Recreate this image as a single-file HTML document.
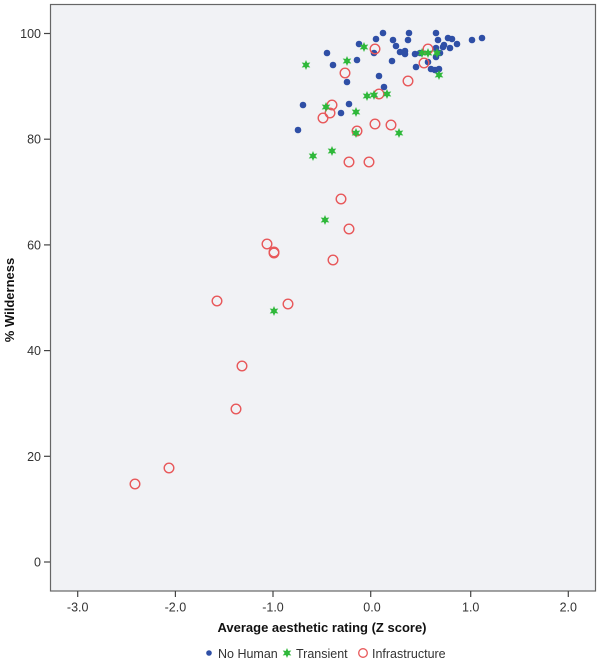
<!DOCTYPE html>
<html><head><meta charset="utf-8"><style>body{margin:0;background:#fff}svg{display:block}</style></head><body>
<svg width="600" height="663" viewBox="0 0 600 663" xmlns="http://www.w3.org/2000/svg" font-family="Liberation Sans, sans-serif">
<defs>
<g id="st"><path d="M0,-5 L1.2,-2.1 4.3,-2.5 2.4,0 4.3,2.5 1.2,2.1 0,5 -1.2,2.1 -4.3,2.5 -2.4,0 -4.3,-2.5 -1.2,-2.1Z" fill="#2fb83a"/></g>
</defs>
<rect x="50.5" y="4.5" width="545" height="586.5" fill="#f1f2f5" stroke="#666" stroke-width="1.2"/>
<g stroke="#444" stroke-width="1.2">
<line x1="44" y1="33.5" x2="50" y2="33.5"/><line x1="44" y1="139.2" x2="50" y2="139.2"/><line x1="44" y1="244.9" x2="50" y2="244.9"/><line x1="44" y1="350.6" x2="50" y2="350.6"/><line x1="44" y1="456.3" x2="50" y2="456.3"/><line x1="44" y1="562" x2="50" y2="562"/>
<line x1="77.7" y1="591" x2="77.7" y2="597"/><line x1="175.4" y1="591" x2="175.4" y2="597"/><line x1="273" y1="591" x2="273" y2="597"/><line x1="370.7" y1="591" x2="370.7" y2="597"/><line x1="470.7" y1="591" x2="470.7" y2="597"/><line x1="568.3" y1="591" x2="568.3" y2="597"/>
</g>
<g font-size="12.5" fill="#333" text-anchor="end">
<text x="41" y="38">100</text><text x="41" y="143.7">80</text><text x="41" y="249.4">60</text><text x="41" y="355.1">40</text><text x="41" y="460.8">20</text><text x="41" y="566.5">0</text>
</g>
<g font-size="12.5" fill="#333" text-anchor="middle">
<text x="77.7" y="611.5">-3.0</text><text x="175.4" y="611.5">-2.0</text><text x="273" y="611.5">-1.0</text><text x="372" y="611.5">0.0</text><text x="470.7" y="611.5">1.0</text><text x="568.3" y="611.5">2.0</text>
</g>
<text x="322" y="632" font-size="13" font-weight="bold" text-anchor="middle" fill="#111">Average aesthetic rating (Z score)</text>
<text transform="translate(14,300) rotate(-90)" font-size="13" font-weight="bold" text-anchor="middle" fill="#111">% Wilderness</text>
<g fill="#2f4fa6">
<circle cx="383" cy="33" r="3.3"/><circle cx="409" cy="33" r="3.3"/><circle cx="436" cy="33" r="3.3"/><circle cx="376" cy="39" r="3.3"/><circle cx="393" cy="40" r="3.3"/><circle cx="408" cy="40" r="3.3"/><circle cx="359" cy="44" r="3.3"/><circle cx="396" cy="46" r="3.3"/><circle cx="327" cy="53" r="3.3"/><circle cx="333" cy="65" r="3.3"/><circle cx="357" cy="60" r="3.3"/><circle cx="392" cy="61" r="3.3"/><circle cx="400" cy="52" r="3.3"/><circle cx="405" cy="51" r="3.3"/><circle cx="405" cy="54" r="3.3"/><circle cx="415" cy="54" r="3.3"/><circle cx="420" cy="53" r="3.3"/><circle cx="416" cy="67" r="3.3"/><circle cx="438" cy="40" r="3.3"/><circle cx="448" cy="38" r="3.3"/><circle cx="452" cy="39" r="3.3"/><circle cx="457" cy="44" r="3.3"/><circle cx="472" cy="40" r="3.3"/><circle cx="482" cy="38" r="3.3"/><circle cx="443" cy="47" r="3.3"/><circle cx="450" cy="48" r="3.3"/><circle cx="436" cy="48" r="3.3"/><circle cx="436" cy="57" r="3.3"/><circle cx="431" cy="69" r="3.3"/><circle cx="435" cy="70" r="3.3"/><circle cx="439" cy="69" r="3.3"/><circle cx="428" cy="62" r="3.3"/><circle cx="379" cy="76" r="3.3"/><circle cx="347" cy="82" r="3.3"/><circle cx="384" cy="87" r="3.3"/><circle cx="349" cy="104" r="3.3"/><circle cx="303" cy="105" r="3.3"/><circle cx="341" cy="113" r="3.3"/><circle cx="298" cy="130" r="3.3"/><circle cx="374" cy="53" r="3.3"/><circle cx="440" cy="53" r="3.3"/><circle cx="444" cy="45" r="3.3"/>
</g>
<g fill="none" stroke="#e8585a" stroke-width="1.4">
<circle cx="375" cy="49" r="4.8"/><circle cx="428" cy="49" r="4.8"/><circle cx="424" cy="63" r="4.8"/><circle cx="345" cy="73" r="4.8"/><circle cx="408" cy="81" r="4.8"/><circle cx="379" cy="94" r="4.8"/><circle cx="332" cy="105" r="4.8"/><circle cx="330" cy="113" r="4.8"/><circle cx="323" cy="118" r="4.8"/><circle cx="357" cy="131" r="4.8"/><circle cx="375" cy="124" r="4.8"/><circle cx="391" cy="125" r="4.8"/><circle cx="349" cy="162" r="4.8"/><circle cx="369" cy="162" r="4.8"/><circle cx="341" cy="199" r="4.8"/><circle cx="349" cy="229" r="4.8"/><circle cx="267" cy="244" r="4.8"/><circle cx="274" cy="253" r="4.8"/><circle cx="274" cy="252" r="4.8"/><circle cx="333" cy="260" r="4.8"/><circle cx="288" cy="304" r="4.8"/><circle cx="217" cy="301" r="4.8"/><circle cx="242" cy="366" r="4.8"/><circle cx="236" cy="409" r="4.8"/><circle cx="169" cy="468" r="4.8"/><circle cx="135" cy="484" r="4.8"/>
</g>
<g>
<use href="#st" x="306" y="65"/><use href="#st" x="347" y="61"/><use href="#st" x="364" y="47"/><use href="#st" x="367" y="96"/><use href="#st" x="374" y="95"/><use href="#st" x="387" y="94"/><use href="#st" x="326" y="107"/><use href="#st" x="356" y="112"/><use href="#st" x="356" y="133"/><use href="#st" x="399" y="133"/><use href="#st" x="422" y="53"/><use href="#st" x="428" y="53"/><use href="#st" x="437" y="53"/><use href="#st" x="439" y="75"/><use href="#st" x="313" y="156"/><use href="#st" x="332" y="151"/><use href="#st" x="325" y="220"/><use href="#st" x="274" y="311"/>
</g>
<circle cx="209" cy="653" r="2.8" fill="#2f4fa6"/>
<text x="218" y="658" font-size="12.5" fill="#333">No Human</text>
<use href="#st" x="287" y="653"/>
<text x="296" y="658" font-size="12.5" fill="#333">Transient</text>
<circle cx="363" cy="653" r="4.3" fill="none" stroke="#e8585a" stroke-width="1.3"/>
<text x="372" y="658" font-size="12.5" fill="#333">Infrastructure</text>
</svg>
</body></html>
